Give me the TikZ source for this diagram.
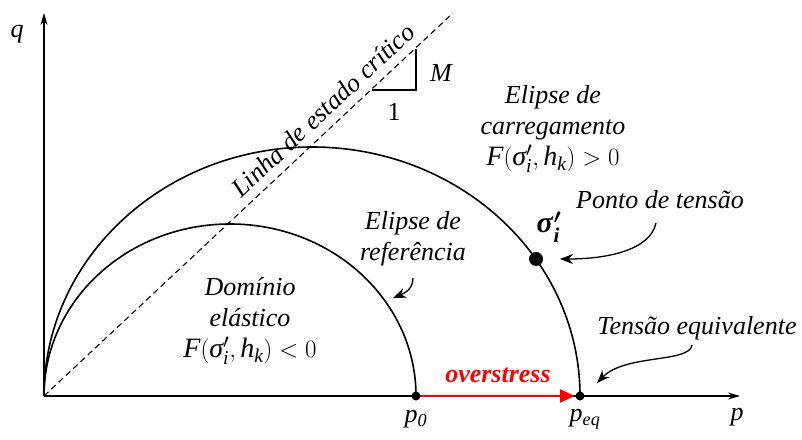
\documentclass[tikz,border=0pt]{standalone}
\usepackage{amsmath}
\usepackage{fontspec}
\setmainfont{Liberation Serif}
\usetikzlibrary{arrows.meta}
\newcommand{\Fsig}[1]{{\fontsize{28}{31}\selectfont$\textit{F}(\textit{σ}'_{\textit{i}},\textit{h}_{\textit{k}}) #1 0$}}
\begin{document}
\begin{tikzpicture}[x=1pt,y=1pt,
  txt/.style={font=\fontsize{26}{31}\selectfont\itshape, align=center, inner sep=0pt},
  axis/.style={line width=1.1pt, -{Stealth[length=12pt,width=7pt,inset=4pt]}},
  curve/.style={line width=1.6pt},
  callout/.style={line width=1.3pt, -{Stealth[length=13pt,width=10pt]}},
  dot/.style={circle, fill=black, inner sep=0pt, minimum size=#1}
]
\useasboundingbox (0,0) rectangle (802,439);
% key points
\coordinate (O) at (44,43);
\coordinate (qtip) at (44,426);
\coordinate (ptip) at (740,43);
\coordinate (p0) at (416,43);
\coordinate (peq) at (580,43);
\coordinate (cslend) at (453,426);
\coordinate (triA) at (416,390);
\coordinate (triB) at (416,349);
\coordinate (triC) at (372,349);
% axes
\draw[axis] (O) -- (qtip);
\draw[axis] (O) -- (ptip);
% critical state line
\draw[line width=1.1pt, dash pattern=on 6pt off 4pt] (O) -- (cslend);
\draw[line width=1.1pt] (triA) -- (triB) -- (triC);
% ellipses
\draw[curve] (peq) arc[start angle=0, end angle=180, x radius=268, y radius=249];
\draw[curve] (p0) arc[start angle=0, end angle=180, x radius=186, y radius=172];
% overstress arrow
\draw[line width=2pt, red, -{Triangle[length=15pt,width=13pt]}] (p0) -- ([xshift=-5pt]peq);
\node[dot=9pt] (dp0) at (p0) {};
\node[dot=9pt] (dpeq) at (peq) {};
\node[dot=14pt] (sig) at (536,180) {};
% labels
\node[txt] (q) at (17,405) {q};
\node[txt] (p) at (737,22) {p};
\node[txt] (lp0) at (416,20) {p\textsubscript{0}};
\node[txt] (lpeq) at (585,20) {p\textsubscript{eq}};
\node[txt] (M) at (441,366) {M};
\node[font=\fontsize{26}{31}\selectfont, inner sep=0pt] (one) at (394,327) {1};
\node[txt, rotate=43.1] (csl) at (323,329) {Linha de estado crítico};
\node[txt] (carr) at (553,310) {Elipse de\\carregamento\\\Fsig{>}};
\node[txt] (ref) at (413,200) {Elipse de\\referência};
\node[txt] (dom) at (250,118) {Domínio\\elástico\\\Fsig{<}};
\node[font=\fontsize{30}{31}\selectfont\boldmath, inner sep=0pt] (sigl) at (549,212) {$\textbf{\textit{σ}}'_{\textbf{\textit{i}}}$};
\node[txt] (ponto) at (660,239) {Ponto de tensão};
\node[txt] (teq) at (697,111) {Tensão equivalente};
\node[font=\fontsize{26}{31}\selectfont\bfseries\itshape, text=red, inner sep=0pt] (over) at (498,64) {overstress};
% callouts
\draw[callout] (656,216) .. controls (650,188) and (605,180) .. (560,180);
\draw[callout] (692,94) .. controls (690,76) and (625,85) .. (597,56);
\draw[callout] (413,161) .. controls (413,150) and (405,146) .. (393,141);
\end{tikzpicture}
\end{document}
